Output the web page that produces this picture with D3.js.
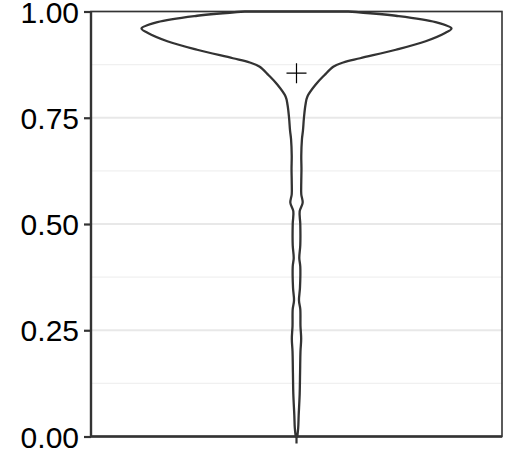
<!DOCTYPE html>
<html>
<head>
<meta charset="utf-8">
<script src="https://cdn.jsdelivr.net/npm/d3@7"></script>
<style>
  body { margin: 0; background: #fff; }
  .tick text { font-family: "Liberation Sans", Arial, sans-serif; }
</style>
</head>
<body>
<div id="chart"></div>
<script>
  // violin outline: value on y, relative density (half width)
  const yValues = [0.00, 0.02, 0.05, 0.10, 0.15, 0.20, 0.23, 0.26, 0.30, 0.32,
    0.35, 0.40, 0.42, 0.45, 0.50, 0.53, 0.55, 0.57, 0.60, 0.63, 0.66, 0.70,
    0.72, 0.75, 0.78, 0.80, 0.83, 0.85, 0.87, 0.88, 0.89, 0.91, 0.93, 0.95,
    0.96, 0.975, 0.99, 1.00];
  const density = [0.8, 1.7, 2.2, 3.2, 3.6, 4.0, 4.7, 4.0, 3.8, 2.5,
    3.5, 3.8, 2.8, 3.8, 3.8, 3.2, 6.2, 4.8, 4.8, 5.0, 4.8, 5.5,
    6.5, 7.5, 9, 11, 20, 28, 37, 47, 64, 100, 130, 150,
    156, 140, 100, 52];
  const categories = [""];
  const meanValue = 0.855;
  const yTicks = [0, 0.25, 0.5, 0.75, 1];
  const yMinor = [0.125, 0.375, 0.625, 0.875];

  const W = 507, H = 450;
  const margin = { top: 11.5, right: 5, bottom: 13.5, left: 91 };
  const w = W - margin.left - margin.right;
  const h = H - margin.top - margin.bottom;

  const svg = d3.select("#chart").append("svg")
    .attr("width", W)
    .attr("height", H);

  const g = svg.append("g")
    .attr("transform", "translate(" + margin.left + "," + margin.top + ")");

  const x = d3.scaleBand().domain(categories).range([0, w]);
  const y = d3.scaleLinear().domain([0, 1]).range([h, 0]);
  const dens = d3.scaleLinear().domain([0, d3.max(density)]).range([0, 155]);

  // grid
  g.selectAll(".minor").data(yMinor).enter().append("line")
    .attr("x1", 0).attr("x2", w)
    .attr("y1", d => y(d)).attr("y2", d => y(d))
    .attr("stroke", "#f0f0f0").attr("stroke-width", 1.1);
  g.selectAll(".major").data(yTicks).enter().append("line")
    .attr("x1", 0).attr("x2", w)
    .attr("y1", d => y(d)).attr("y2", d => y(d))
    .attr("stroke", "#e8e8e8").attr("stroke-width", 1.8);

  // violin
  const cx = x("") + x.bandwidth() / 2;
  const pts = yValues.map((v, i) => [v, density[i]]);
  const area = d3.area()
    .curve(d3.curveCatmullRom)
    .y(d => y(d[0]))
    .x0(d => cx - dens(d[1]))
    .x1(d => cx + dens(d[1]));
  g.append("path")
    .datum(pts)
    .attr("d", area)
    .attr("fill", "none")
    .attr("stroke", "#333333")
    .attr("stroke-width", 2.3)
    .attr("stroke-linejoin", "round");

  // mean
  const my = y(meanValue);
  g.append("path")
    .attr("d", "M" + (cx - 10) + "," + my + "H" + (cx + 10) + "M" + cx + "," + (my - 10) + "V" + (my + 10))
    .attr("stroke", "#000").attr("stroke-width", 1.2);

  // panel border
  g.append("rect")
    .attr("width", w).attr("height", h)
    .attr("fill", "none")
    .attr("stroke", "#333333")
    .attr("stroke-width", 1.6);

  const yAxis = d3.axisLeft(y).tickValues(yTicks).tickFormat(d3.format(".2f")).tickSize(7).tickPadding(5);
  const xAxis = d3.axisBottom(x).tickSize(7);

  const ya = g.append("g").call(yAxis);
  ya.select(".domain").remove();
  ya.selectAll(".tick line").attr("stroke", "#333333").attr("stroke-width", 2.2);
  ya.selectAll(".tick text").attr("font-size", 30).attr("fill", "#000").attr("dy", "0.35em");

  const xa = g.append("g").attr("transform", "translate(0," + h + ")").call(xAxis);
  xa.select(".domain").remove();
  xa.selectAll(".tick line").attr("stroke", "#333333").attr("stroke-width", 2.2);

  // axis lines
  g.append("line").attr("x1", 0).attr("x2", 0).attr("y1", 0).attr("y2", h)
    .attr("stroke", "#333333").attr("stroke-width", 2.4);
  g.append("line").attr("x1", 0).attr("x2", w).attr("y1", h).attr("y2", h)
    .attr("stroke", "#333333").attr("stroke-width", 2.4);
</script>
</body>
</html>
